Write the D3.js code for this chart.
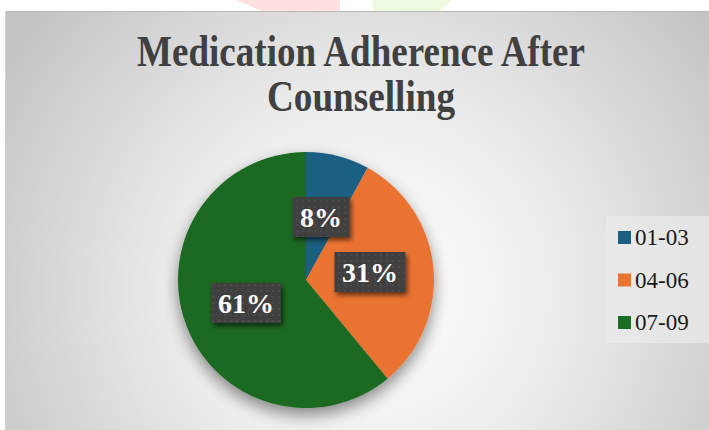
<!DOCTYPE html>
<html>
<head>
<meta charset="utf-8">
<script src="https://cdn.jsdelivr.net/npm/d3@7"></script>
<style>
  html, body { margin: 0; padding: 0; background: #ffffff; }
  svg { display: block; }
</style>
</head>
<body>
<script>
// Chart data
const categories = ["01-03", "04-06", "07-09"];
const shares = [8, 31, 61];
const colors = ["#1a5f84", "#ea7331", "#1a6b24"];
const titleLines = ["Medication Adherence After", "Counselling"];

const W = 709, H = 430;
const serif = "'Liberation Serif', 'Times New Roman', Times, serif";
const svg = d3.select("body").append("svg").attr("width", W).attr("height", H);
const defs = svg.append("defs");

// Background gradient for the chart area
const bg = defs.append("radialGradient").attr("id", "bgGrad")
  .attr("gradientUnits", "userSpaceOnUse")
  .attr("cx", 370).attr("cy", 290).attr("r", 430);
bg.append("stop").attr("offset", "0%").attr("stop-color", "#ffffff");
bg.append("stop").attr("offset", "45%").attr("stop-color", "#ececec");
bg.append("stop").attr("offset", "100%").attr("stop-color", "#c4c4c4");

// Soft shadow for the pie
const sh = defs.append("filter").attr("id", "pieShadow")
  .attr("x", "-30%").attr("y", "-30%").attr("width", "160%").attr("height", "160%");
sh.append("feGaussianBlur").attr("in", "SourceAlpha").attr("stdDeviation", 8).attr("result", "b");
sh.append("feOffset").attr("in", "b").attr("dx", 0).attr("dy", 7).attr("result", "o");
sh.append("feComponentTransfer").attr("in", "o").attr("result", "oa")
  .append("feFuncA").attr("type", "linear").attr("slope", 0.45);
const shm = sh.append("feMerge");
shm.append("feMergeNode").attr("in", "oa");
shm.append("feMergeNode").attr("in", "SourceGraphic");

// Shadow for the label boxes
const ls = defs.append("filter").attr("id", "lblShadow")
  .attr("x", "-30%").attr("y", "-30%").attr("width", "160%").attr("height", "170%");
ls.append("feGaussianBlur").attr("in", "SourceAlpha").attr("stdDeviation", 2.5).attr("result", "b");
ls.append("feOffset").attr("in", "b").attr("dx", 2).attr("dy", 3).attr("result", "o");
ls.append("feComponentTransfer").attr("in", "o").attr("result", "oa")
  .append("feFuncA").attr("type", "linear").attr("slope", 0.6);
const lsm = ls.append("feMerge");
lsm.append("feMergeNode").attr("in", "oa");
lsm.append("feMergeNode").attr("in", "SourceGraphic");

// Dotted texture for label boxes
const pat = defs.append("pattern").attr("id", "dots")
  .attr("patternUnits", "userSpaceOnUse").attr("width", 6).attr("height", 6);
pat.append("rect").attr("width", 6).attr("height", 6).attr("fill", "#404040");
pat.append("rect").attr("x", 2).attr("y", 2).attr("width", 2).attr("height", 2).attr("fill", "#4c4c4c");

// Faint page decorations above the chart frame
svg.append("path").attr("d", "M236,0 L340,0 L340,11 L262,11 Z").attr("fill", "#ffe0e0");
svg.append("path").attr("d", "M373,0 L452,0 L440,11 L373,11 Z").attr("fill", "#eefadf");

// Chart area
svg.append("rect").attr("x", 5).attr("y", 11).attr("width", W - 5).attr("height", H - 11)
  .attr("fill", "url(#bgGrad)");
svg.append("line").attr("x1", 5).attr("x2", W).attr("y1", 11.5).attr("y2", 11.5)
  .attr("stroke", "#b8b8b8").attr("stroke-width", 1);
svg.append("line").attr("x1", 5.5).attr("x2", 5.5).attr("y1", 11).attr("y2", H)
  .attr("stroke", "#d0d0d0").attr("stroke-width", 1);

// Title (condensed bold serif)
const titleWidths = [448, 188];
titleLines.forEach((t, i) => {
  svg.append("text").attr("text-anchor", "middle")
    .attr("x", 361).attr("y", 66 + i * 45)
    .attr("font-family", serif)
    .attr("font-weight", "bold").attr("font-size", 44).attr("fill", "#404040")
    .attr("textLength", titleWidths[i]).attr("lengthAdjust", "spacingAndGlyphs")
    .text(t);
});

// Pie
const cx = 306, cy = 280, R = 128;
const pie = d3.pie().sort(null).value(d => d);
const arcs = pie(shares);
const arc = d3.arc().innerRadius(0).outerRadius(R);
const g = svg.append("g").attr("transform", `translate(${cx},${cy})`);
g.append("g").attr("filter", "url(#pieShadow)")
  .selectAll("path").data(arcs).join("path")
  .attr("d", arc).attr("fill", (d, i) => colors[i]);

// Data labels
const labelPos = [[321, 217], [370, 272], [246, 303]];
const boxW = [57, 71, 70], boxH = 40;
const lbl = svg.append("g");
arcs.forEach((a, i) => {
  const [x, y] = labelPos[i];
  const gg = lbl.append("g").attr("filter", "url(#lblShadow)");
  gg.append("rect").attr("x", x - boxW[i] / 2).attr("y", y - boxH / 2)
    .attr("width", boxW[i]).attr("height", boxH).attr("fill", "url(#dots)");
  lbl.append("text").attr("x", x).attr("y", y + 9.5)
    .attr("text-anchor", "middle")
    .attr("font-family", serif)
    .attr("font-weight", "bold").attr("font-size", 28).attr("fill", "#ffffff")
    .text(shares[i] + "%");
});

// Legend
const leg = svg.append("g");
leg.append("rect").attr("x", 606).attr("y", 216).attr("width", 103).attr("height", 127)
  .attr("fill", "#ebebeb").attr("opacity", 0.7);
categories.forEach((c, i) => {
  const y = 237 + i * 42.5;
  leg.append("rect").attr("x", 618).attr("y", y - 6).attr("width", 13).attr("height", 13)
    .attr("fill", colors[i]);
  leg.append("text").attr("x", 635).attr("y", y + 8)
    .attr("font-family", serif)
    .attr("font-size", 23).attr("fill", "#1a1a1a").text(c);
});
</script>
</body>
</html>
